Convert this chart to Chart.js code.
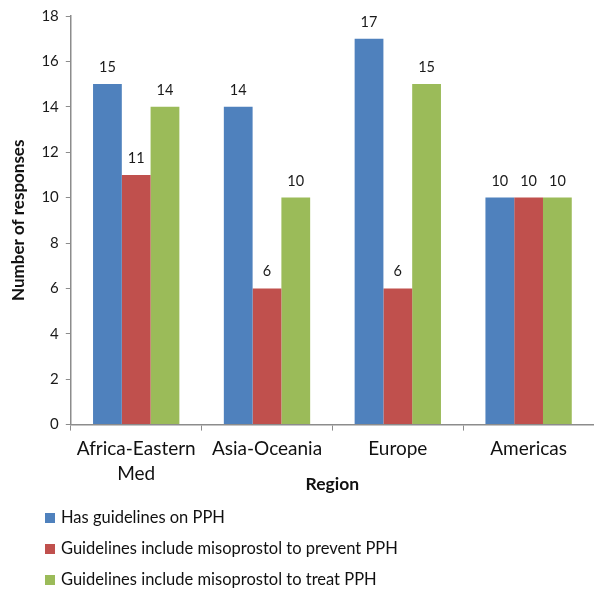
<!DOCTYPE html>
<html>
<head>
<meta charset="utf-8">
<script src="https://cdn.jsdelivr.net/npm/chart.js@4/dist/chart.umd.min.js"></script>
<style>
  html, body { margin: 0; padding: 0; background: #ffffff; }
  #wrap { width: 594px; height: 590px; position: relative; }
</style>
</head>
<body>
<div id="wrap"><canvas id="c" width="594" height="590"></canvas></div>
<script>
// Survey responses by region
const regions = [['Africa-Eastern', 'Med'], 'Asia-Oceania', 'Europe', 'Americas'];
const hasGuidelines = [15, 14, 17, 10];
const misoPrevent = [11, 6, 6, 10];
const misoTreat = [14, 10, 15, 10];
const seriesNames = [
  'Has guidelines on PPH',
  'Guidelines include misoprostol to prevent PPH',
  'Guidelines include misoprostol to treat PPH'
];
const seriesColors = ['#4F81BD', '#C0504D', '#9BBB59'];

const FONT = 'Lato, "Open Sans", sans-serif';
const AXIS = '#8C8C8C';

// value above every bar
const valueLabels = {
  id: 'valueLabels',
  afterDatasetsDraw(chart) {
    const ctx = chart.ctx;
    ctx.save();
    ctx.font = '14.5px ' + FONT;
    ctx.fillStyle = '#1a1a1a';
    ctx.textAlign = 'center';
    ctx.textBaseline = 'alphabetic';
    chart.data.datasets.forEach((ds, i) => {
      chart.getDatasetMeta(i).data.forEach((bar, j) => {
        ctx.fillText(String(ds.data[j]), bar.x, bar.y - 12);
      });
    });
    ctx.restore();
  }
};

// stacked legend under the axis title
const stackedLegend = {
  id: 'stackedLegend',
  afterDraw(chart) {
    const ctx = chart.ctx;
    ctx.save();
    ctx.font = '16.5px ' + FONT;
    ctx.textBaseline = 'middle';
    ctx.textAlign = 'left';
    chart.data.datasets.forEach((ds, i) => {
      const y = 518 + i * 31;
      ctx.fillStyle = ds.backgroundColor;
      ctx.fillRect(45, y - 5, 10, 10);
      ctx.fillStyle = '#111';
      ctx.fillText(ds.label, 61, y);
    });
    ctx.restore();
  }
};

new Chart(document.getElementById('c'), {
  type: 'bar',
  data: {
    labels: regions,
    datasets: [
      { label: seriesNames[0], data: hasGuidelines, backgroundColor: seriesColors[0] },
      { label: seriesNames[1], data: misoPrevent, backgroundColor: seriesColors[1] },
      { label: seriesNames[2], data: misoTreat, backgroundColor: seriesColors[2] }
    ]
  },
  options: {
    responsive: false,
    animation: false,
    devicePixelRatio: 1,
    layout: { padding: { left: 8, right: 0, top: 6, bottom: 95 } },
    datasets: { bar: { categoryPercentage: 0.66, barPercentage: 1.0, borderWidth: 0 } },
    plugins: {
      legend: { display: false },
      tooltip: { enabled: false }
    },
    scales: {
      x: {
        grid: { display: true, drawOnChartArea: false, drawTicks: true, tickLength: 6, color: AXIS, offset: true },
        border: { color: AXIS, width: 1.5 },
        ticks: { color: '#111', font: { family: FONT, size: 19, lineHeight: 1.3 }, padding: 6, maxRotation: 0 },
        title: { display: true, text: 'Region', color: '#111', font: { family: FONT, size: 17.5, weight: 'bold', lineHeight: 1.2 }, padding: { top: -18, bottom: 0 } }
      },
      y: {
        min: 0, max: 18,
        ticks: { stepSize: 2, color: '#1a1a1a', font: { family: FONT, size: 15 }, padding: 7 },
        grid: { display: true, drawOnChartArea: false, drawTicks: true, tickLength: 5, color: AXIS },
        border: { color: AXIS, width: 1.5 },
        title: { display: true, text: 'Number of responses', color: '#111', font: { family: FONT, size: 17, weight: 'bold', lineHeight: 1.2 }, padding: { top: 0, bottom: 6 } }
      }
    }
  },
  plugins: [valueLabels, stackedLegend]
});
</script>
</body>
</html>
